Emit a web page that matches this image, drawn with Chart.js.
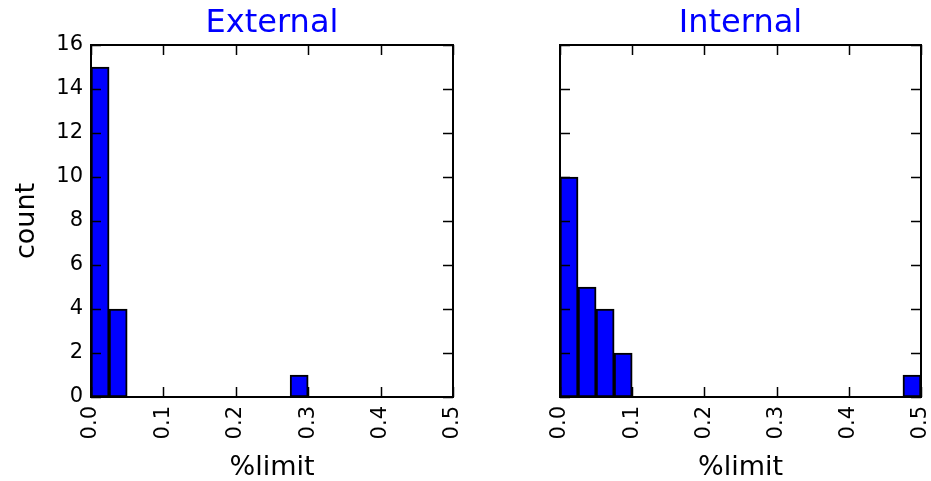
<!DOCTYPE html>
<html>
<head>
<meta charset="utf-8">
<script src="https://cdn.jsdelivr.net/npm/chart.js@4"></script>
<style>
  html, body { margin: 0; padding: 0; background: #fff; }
  body { width: 931px; height: 481px; position: relative; overflow: hidden; }
  .panel { position: absolute; top: 0; height: 481px; }
  #extPanel { left: 0; width: 475px; }
  #intPanel { left: 475px; width: 456px; }
</style>
</head>
<body>
<div class="panel" id="extPanel"><canvas id="extChart"></canvas></div>
<div class="panel" id="intPanel"><canvas id="intChart"></canvas></div>
<script>
// --- DATA ---
// histogram bins of width 0.025, given by their centres
var binCenters = [0.0125, 0.0375, 0.0625, 0.0875, 0.1125, 0.1375, 0.1625, 0.1875, 0.2125, 0.2375,
                  0.2625, 0.2875, 0.3125, 0.3375, 0.3625, 0.3875, 0.4125, 0.4375, 0.4625, 0.4875];
var externalCounts = [15, 4, 0, 0, 0, 0, 0, 0, 0, 0, 0, 1, 0, 0, 0, 0, 0, 0, 0, 0];
var internalCounts = [10, 5, 4, 2, 0, 0, 0, 0, 0, 0, 0, 0, 0, 0, 0, 0, 0, 0, 0, 1];
var xTicks = [0, 0.1, 0.2, 0.3, 0.4, 0.5];
var yTicks = [0, 2, 4, 6, 8, 10, 12, 14, 16];

Chart.defaults.font.family = '"DejaVu Sans", sans-serif';
Chart.defaults.color = '#000';

// matplotlib-style box: full frame with ticks pointing inwards on all four sides
var frameTicks = {
  id: 'frameTicks',
  afterDraw: function (chart) {
    var a = chart.chartArea, c = chart.ctx;
    var xs = chart.scales.x, ys = chart.scales.y;
    var len = 10;
    c.save();
    c.strokeStyle = '#000';
    c.lineWidth = 1.5;
    c.beginPath();
    xTicks.forEach(function (v) {
      var px = Math.round(xs.getPixelForValue(v)) + 0.5;
      c.moveTo(px, a.bottom); c.lineTo(px, a.bottom - len);
      c.moveTo(px, a.top); c.lineTo(px, a.top + len);
    });
    yTicks.forEach(function (v) {
      var py = Math.round(ys.getPixelForValue(v)) + 0.5;
      c.moveTo(a.left, py); c.lineTo(a.left + len, py);
      c.moveTo(a.right, py); c.lineTo(a.right - len, py);
    });
    c.stroke();
    c.lineWidth = 2;
    c.strokeRect(a.left, a.top, a.right - a.left, a.bottom - a.top);
    c.restore();
  }
};

function makeHist(canvasId, title, counts, axisWidth, rightPad, showY) {
  var points = binCenters.map(function (x, i) { return { x: x, y: counts[i] }; });
  return new Chart(document.getElementById(canvasId), {
    type: 'bar',
    data: {
      datasets: [{
        data: points,
        backgroundColor: '#0000ff',
        borderColor: '#000',
        borderWidth: function (ctx) { return ctx.raw && ctx.raw.y > 0 ? 2 : 0; },
        borderSkipped: false,
        barPercentage: 1,
        categoryPercentage: 1
      }]
    },
    options: {
      responsive: true,
      maintainAspectRatio: false,
      animation: false,
      layout: { padding: { left: 0, right: rightPad, top: 0, bottom: 0 } },
      plugins: {
        legend: { display: false },
        tooltip: { enabled: false },
        title: {
          display: true,
          text: title,
          color: '#0000ff',
          fullSize: false,
          font: { size: 32, weight: 'normal' },
          padding: { top: 4, bottom: 2.6 }
        }
      },
      scales: {
        x: {
          type: 'linear',
          min: 0,
          max: 0.5,
          offset: false,
          grid: { display: false, offset: false, drawTicks: false },
          border: { display: false },
          afterBuildTicks: function (scale) {
            scale.ticks = xTicks.map(function (v) { return { value: v }; });
          },
          afterFit: function (scale) {
            // keep the plot box fixed: no room reserved for rotated end labels
            scale.height = 84;
            scale.paddingLeft = 0;
            scale.paddingRight = 0;
          },
          ticks: {
            autoSkip: false,
            minRotation: 90,
            maxRotation: 90,
            padding: 9,
            font: { size: 21 },
            callback: function (v) { return Number(v).toFixed(1); }
          },
          title: {
            display: true,
            text: '%limit',
            font: { size: 27 },
            padding: { top: 0, bottom: -3 }
          }
        },
        y: {
          min: 0,
          max: 16,
          grid: { display: false, drawTicks: false },
          border: { display: false },
          afterBuildTicks: function (scale) {
            scale.ticks = yTicks.map(function (v) { return { value: v }; });
          },
          afterFit: function (scale) {
            scale.width = axisWidth;
            scale.paddingTop = 0;
            scale.paddingBottom = 0;
          },
          ticks: {
            display: showY,
            padding: 8,
            font: { size: 21 }
          },
          title: {
            display: showY,
            text: 'count',
            font: { size: 27 },
            padding: { top: 11, bottom: 0 }
          }
        }
      }
    },
    plugins: [frameTicks]
  });
}

makeHist('extChart', 'External', externalCounts, 91, 22, true);
makeHist('intChart', 'Internal', internalCounts, 85, 10, false);
</script>
</body>
</html>
